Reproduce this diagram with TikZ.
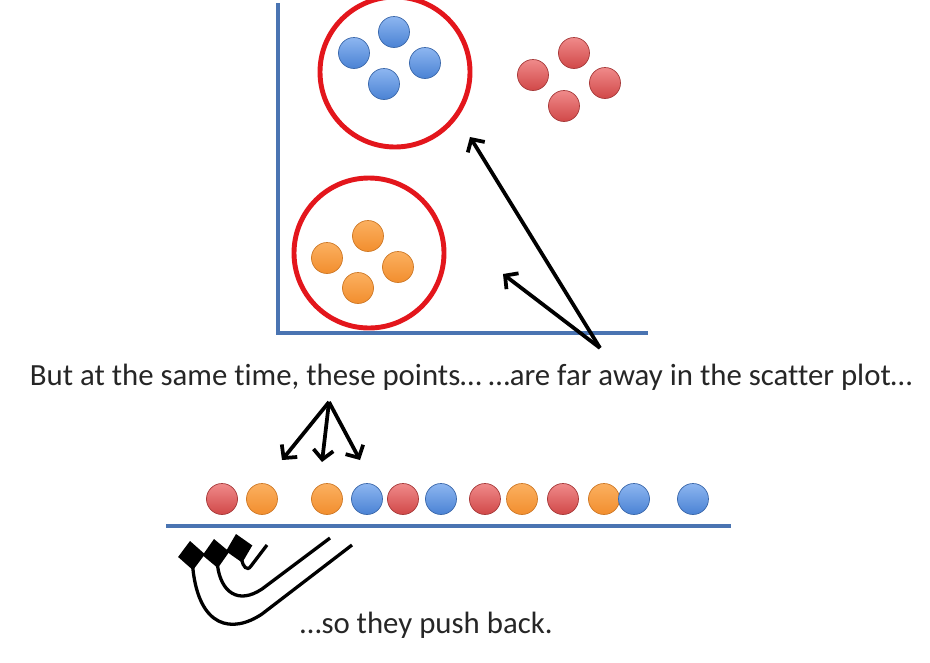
\documentclass[tikz,border=0pt]{standalone}
\usepackage{fontspec}
\setmainfont{Carlito}[Ligatures=NoCommon]
\usetikzlibrary{arrows.meta}

\definecolor{axisblue}{HTML}{4A74B2}
\definecolor{ringred}{HTML}{E3161C}
\definecolor{bluetop}{HTML}{8DB6F0}
\definecolor{bluebot}{HTML}{4A82D4}
\definecolor{redtop}{HTML}{F08A8A}
\definecolor{redbot}{HTML}{D04848}
\definecolor{orangetop}{HTML}{FBB060}
\definecolor{orangebot}{HTML}{F28E2E}

\tikzset{
  dot/.style={circle,inner sep=0pt,minimum size=0.93cm,line width=0.6pt},
  bluedot/.style={dot,draw=bluebot!80!black,top color=bluetop,bottom color=bluebot},
  reddot/.style={dot,draw=redbot!80!black,top color=redtop,bottom color=redbot},
  orangedot/.style={dot,draw=orangebot!85!black,top color=orangetop,bottom color=orangebot},
  pointer/.style={line width=3.2pt,-{Straight Barb[length=8pt,width=17pt]}},
  pushback/.style={line width=2.8pt,-{Diamond[length=25pt,width=23pt]}},
  words/.style={font=\fontsize{26.3}{30}\selectfont,text=black!85,inner sep=0pt}
}

\begin{document}
\begin{tikzpicture}[x=0.03cm,y=-0.03cm]
    \useasboundingbox (0,0) rectangle (930,662);

    % 坐标轴
    \coordinate (O) at (278,333);
    \coordinate (Ytop) at (278,3);
    \coordinate (Xend) at (648,333);
    \draw[axisblue,line width=3pt] (Ytop) -- (O) -- (Xend);

    % 红色圆圈
    \draw[ringred,line width=4.2pt] (395,72) circle (75);
    \draw[ringred,line width=4.2pt] (369,253) circle (75);

    % 散点图中的点
    \node[bluedot] (b1) at (354,53) {};
    \node[bluedot] (b2) at (394,32) {};
    \node[bluedot] (b3) at (425,63) {};
    \node[bluedot] (b4) at (384,84) {};

    \node[reddot] (r1) at (533,75) {};
    \node[reddot] (r2) at (574,53) {};
    \node[reddot] (r3) at (605,83) {};
    \node[reddot] (r4) at (564,106) {};

    \node[orangedot] (o1) at (327,258) {};
    \node[orangedot] (o2) at (368,236) {};
    \node[orangedot] (o3) at (398,267) {};
    \node[orangedot] (o4) at (358,288) {};

    % 文字
    \node[words,anchor=base] (say) at (471,385)
        {But at the same time, these points\dots\ \dots are far away in the scatter plot\dots};
    \node[words,anchor=base west] (push) at (300,633) {\dots so they push back.};

    % 指向散点图的箭头
    \coordinate (P) at (600,348);
    \coordinate (Pup) at (470,137);
    \coordinate (Plow) at (503,274);
    \draw[pointer] (P) -- (Pup);
    \draw[pointer] (P) -- (Plow);

    % 一维排列
    \coordinate (L0) at (166,526);
    \coordinate (L1) at (731,526);
    \draw[axisblue,line width=3pt] (L0) -- (L1);

    \node[reddot]    (d1)  at (222,499) {};
    \node[orangedot] (d2)  at (262,499) {};
    \node[orangedot] (d3)  at (327,499) {};
    \node[bluedot]   (d4)  at (367,499) {};
    \node[reddot]    (d5)  at (403,499) {};
    \node[bluedot]   (d6)  at (441,499) {};
    \node[reddot]    (d7)  at (485,499) {};
    \node[orangedot] (d8)  at (522,499) {};
    \node[reddot]    (d9)  at (563,499) {};
    \node[orangedot] (d10) at (604,499) {};
    \node[bluedot]   (d11) at (634,499) {};
    \node[bluedot]   (d12) at (693,499) {};

    % 指向这些点的箭头
    \coordinate (T) at (329,402);
    \coordinate (Ta) at (282,460);
    \coordinate (Tb) at (322,462);
    \coordinate (Tc) at (360,460);
    \draw[pointer] (T) -- (Ta);
    \draw[pointer] (T) -- (Tb);
    \draw[pointer] (T) -- (Tc);

    % 推回的弯箭头
    \coordinate (Sa) at (352,545);
    \coordinate (Ea) at (190,541);
    \coordinate (Sb) at (330,538);
    \coordinate (Eb) at (214,539);
    \coordinate (Sc) at (267,545);
    \coordinate (Ec) at (236,534);
    \draw[pushback] (Sa) -- (262,614) .. controls (232,634) and (199,628) .. (Ea);
    \draw[pushback] (Sb) -- (262,589) .. controls (238,605) and (221,592) .. (Eb);
    \draw[pushback] (Sc) -- (251,566) .. controls (247,572) and (243,566) .. (Ec);

\end{tikzpicture}
\end{document}
